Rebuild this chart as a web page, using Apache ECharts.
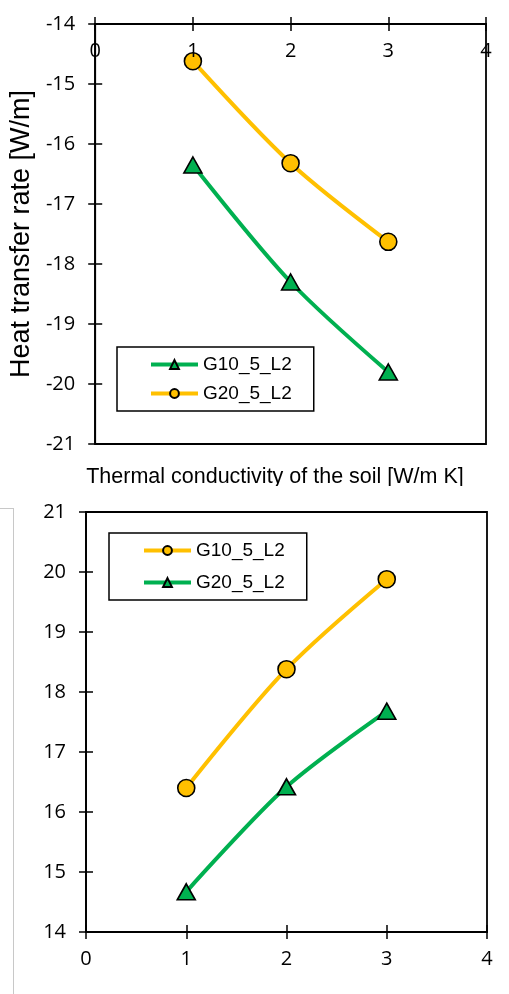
<!DOCTYPE html>
<html>
<head>
<meta charset="utf-8">
<script src="https://cdn.jsdelivr.net/npm/echarts@6/dist/echarts.min.js"></script>
<style>
html,body{margin:0;padding:0;background:#fff;}
#chart{width:509px;height:994px;}
</style>
</head>
<body>
<div id="chart"></div>
<script>
// ---- data ----
const conductivity = [1, 2, 3];
const topG10 = [-16.35, -18.30, -19.80];
const topG20 = [-14.62, -16.32, -17.63];
const botG10 = [16.40, 18.38, 19.88];
const botG20 = [14.67, 16.42, 17.68];
const topYTicks = [-21, -14];
const botYTicks = [14, 21];
const xTickRange = [0, 4];
const seriesNames = ['G10_5_L2', 'G20_5_L2'];
const xName = 'Thermal conductivity of the soil [W/m K]';
const yName = 'Heat transfer rate [W/m]';

const YELLOW = '#FFC000';
const GREEN = '#00B050';
const AX = '#000';
const tickFont = {fontFamily: 'Open Sans', fontSize: 20, color: '#000'};

function pairs(xs, ys) { return xs.map((x, i) => [x, ys[i]]); }

const chart = echarts.init(document.getElementById('chart'), null, {renderer: 'canvas'});

function mainX(grid, pos, inside, margin) {
  return {
    type: 'value', gridIndex: grid, position: pos, min: xTickRange[0], max: xTickRange[1], interval: 1,
    z: 5,
    axisLine: {show: true, onZero: false, lineStyle: {color: AX, width: 1.8}},
    axisTick: {show: true, inside: false, length: 7, lineStyle: {color: AX, width: 1.5}},
    axisLabel: Object.assign({inside: inside, margin: margin}, tickFont),
    splitLine: {show: false}
  };
}
function tickX(grid, pos) {
  return {
    type: 'value', gridIndex: grid, position: pos, min: xTickRange[0], max: xTickRange[1], interval: 1,
    axisLine: {show: false, onZero: false},
    axisTick: {show: true, inside: true, length: 7, lineStyle: {color: AX, width: 1.5}},
    axisLabel: {show: false}, splitLine: {show: false}
  };
}
function mainY(grid, range, extra) {
  return Object.assign({
    type: 'value', gridIndex: grid, position: 'left', min: range[0], max: range[1], interval: 1,
    axisLine: {show: true, onZero: false, lineStyle: {color: AX, width: 1.8}},
    axisTick: {show: true, inside: false, length: 7, lineStyle: {color: AX, width: 1.5}},
    axisLabel: Object.assign({margin: 20}, tickFont),
    splitLine: {show: false}
  }, extra || {});
}
function tickY(grid, range) {
  return {
    type: 'value', gridIndex: grid, position: 'left', min: range[0], max: range[1], interval: 1,
    axisLine: {show: false, onZero: false},
    axisTick: {show: true, inside: true, length: 7, lineStyle: {color: AX, width: 1.5}},
    axisLabel: {show: false}, splitLine: {show: false}
  };
}
function lineSeries(name, tag, xi, yi, data, color, symbol, size) {
  return {
    type: 'line', name: name + '|' + tag, xAxisIndex: xi, yAxisIndex: yi,
    data: data, smooth: 0.3, symbol: symbol, symbolSize: size, showSymbol: true,
    lineStyle: {color: color, width: 4},
    itemStyle: {color: color, borderColor: '#000', borderWidth: 1.6},
    emphasis: {disabled: true}, z: 3
  };
}
function legendOf(names, left, top, pad, gap) {
  return {
    orient: 'vertical', left: left, top: top, data: names,
    padding: pad, itemGap: gap, itemWidth: 47, itemHeight: 11,
    backgroundColor: '#fff', borderColor: '#000', borderWidth: 1.5, borderRadius: 0,
    formatter: n => n.split('|')[0],
    lineStyle: {width: 4},
    textStyle: {fontFamily: 'Liberation Sans', fontSize: 19, color: '#000', padding: [0, 0, 0, 0]},
    selectedMode: false
  };
}

chart.setOption({
  animation: false,
  backgroundColor: '#fff',
  grid: [
    {left: 92, top: 24, width: 394, height: 420, show: true, borderColor: AX, borderWidth: 1.8, backgroundColor: '#fff'},
    {left: 86, top: 512, width: 401, height: 420, show: true, borderColor: AX, borderWidth: 1.8, backgroundColor: '#fff'}
  ],
  xAxis: [
    mainX(0, 'top', true, 17),
    tickX(0, 'top'),
    mainX(1, 'bottom', false, 17),
    tickX(1, 'bottom')
  ],
  yAxis: [
    mainY(0, topYTicks, {name: yName, nameLocation: 'middle', nameGap: 56, nameRotate: 90,
      nameTextStyle: {fontFamily: 'Liberation Sans', fontSize: 27, color: '#000'}}),
    tickY(0, topYTicks),
    mainY(1, botYTicks),
    tickY(1, botYTicks)
  ],
  legend: [
    legendOf([seriesNames[0] + '|t', seriesNames[1] + '|t'], 117, 347, [8, 22, 8, 32], 10),
    legendOf([seriesNames[0] + '|b', seriesNames[1] + '|b'], 109, 533, [8, 22, 8, 33], 13)
  ],
  series: [
    lineSeries(seriesNames[0], 't', 0, 0, pairs(conductivity, topG10), GREEN, 'triangle', [18, 16]),
    lineSeries(seriesNames[1], 't', 0, 0, pairs(conductivity, topG20), YELLOW, 'circle', 17),
    lineSeries(seriesNames[0], 'b', 2, 2, pairs(conductivity, botG10), YELLOW, 'circle', 17),
    lineSeries(seriesNames[1], 'b', 2, 2, pairs(conductivity, botG20), GREEN, 'triangle', [18, 16])
  ],
  graphic: [
    {type: 'text', z: 10, x: 275, y: 477,
      style: {text: xName, fontFamily: 'Liberation Sans', fontSize: 21.5, fill: '#000', align: 'center', verticalAlign: 'middle'}},
    {type: 'rect', z: 20, shape: {x: 0, y: 486, width: 509, height: 18}, style: {fill: '#fff'}},
    {type: 'line', z: 20, shape: {x1: 13.5, y1: 508, x2: 13.5, y2: 994}, style: {stroke: '#c8c8c8', lineWidth: 1}},
    {type: 'line', z: 20, shape: {x1: 0, y1: 508.5, x2: 13.5, y2: 508.5}, style: {stroke: '#c8c8c8', lineWidth: 1}}
  ]
});
</script>
</body>
</html>
